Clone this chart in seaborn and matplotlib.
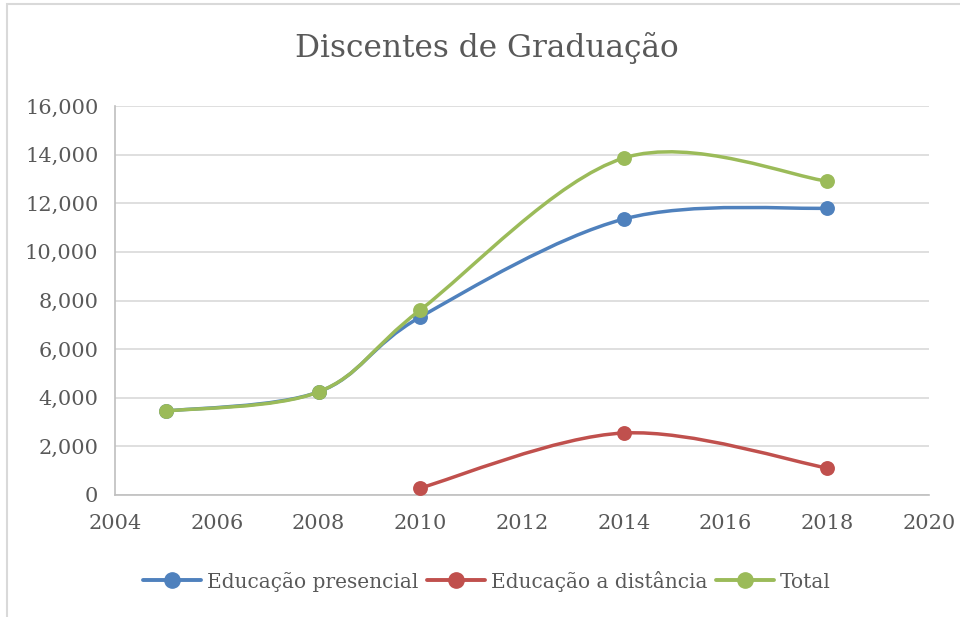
import matplotlib
matplotlib.use("Agg")
import matplotlib.pyplot as plt
from matplotlib.path import Path
from matplotlib.patches import PathPatch, Rectangle
from matplotlib.lines import Line2D
from matplotlib.ticker import FuncFormatter, MultipleLocator
import seaborn as sns
import pandas as pd

# ---- data ----
series_names = ["Educação presencial", "Educação a distância", "Total"]
years_presencial = [2005, 2008, 2010, 2014, 2018]
vals_presencial = [3450, 4240, 7320, 11350, 11800]
years_distancia = [2010, 2014, 2018]
vals_distancia = [290, 2550, 1110]
years_total = [2005, 2008, 2010, 2014, 2018]
vals_total = [3450, 4240, 7610, 13860, 12910]
colors = ["#4F81BD", "#C0504D", "#9BBB59"]
title = "Discentes de Graduação"

sns.set_theme(style="white")
plt.rcParams["font.family"] = ["DejaVu Serif"]
text_color = "#595959"

fig = plt.figure(figsize=(9.6, 6.17), dpi=100)
# chart frame (Excel-like border)
fig.patches.append(Rectangle((7 / 960, -0.1), 1.2, 1 - 4 / 617 + 0.1,
                             transform=fig.transFigure, fill=False,
                             edgecolor="#D9D9D9", linewidth=1.5))
ax = fig.add_axes([115 / 960, 1 - 495 / 617, (929 - 115) / 960, (495 - 106) / 617])

frames = []
for name, xs, ys in [(series_names[0], years_presencial, vals_presencial),
                     (series_names[1], years_distancia, vals_distancia),
                     (series_names[2], years_total, vals_total)]:
    frames.append(pd.DataFrame({"ano": xs, "valor": ys, "serie": name}))
df = pd.concat(frames, ignore_index=True)


def smooth_path(xs, ys):
    pts = list(zip(xs, ys))
    n = len(pts)
    verts = [pts[0]]
    codes = [Path.MOVETO]
    for i in range(n - 1):
        p0 = pts[i - 1] if i > 0 else pts[i]
        p1 = pts[i]
        p2 = pts[i + 1]
        p3 = pts[i + 2] if i + 2 < n else pts[i + 1]
        c1 = (p1[0] + (p2[0] - p0[0]) / 6, p1[1] + (p2[1] - p0[1]) / 6)
        c2 = (p2[0] - (p3[0] - p1[0]) / 6, p2[1] - (p3[1] - p1[1]) / 6)
        verts += [c1, c2, p2]
        codes += [Path.CURVE4] * 3
    return Path(verts, codes)


for i, name in enumerate(series_names):
    sub = df[df["serie"] == name]
    patch = PathPatch(smooth_path(sub["ano"].tolist(), sub["valor"].tolist()),
                      fill=False, edgecolor=colors[i], linewidth=2.5,
                      capstyle="round", joinstyle="round", zorder=3 + i * 2)
    ax.add_patch(patch)
    sns.scatterplot(data=sub, x="ano", y="valor", color=colors[i], s=115,
                    edgecolor=colors[i], linewidth=0, ax=ax, zorder=4 + i * 2,
                    legend=False)

ax.set_xlim(2004, 2020)
ax.set_ylim(0, 16000)
ax.xaxis.set_major_locator(MultipleLocator(2))
ax.yaxis.set_major_locator(MultipleLocator(2000))
ax.yaxis.set_major_formatter(FuncFormatter(lambda v, p: f"{int(v):,}"))
ax.set_xlabel("")
ax.set_ylabel("")
ax.grid(axis="y", color="#D9D9D9", linewidth=1.2)
ax.grid(axis="x", visible=False)
for s in ["top", "right"]:
    ax.spines[s].set_visible(False)
for s in ["left", "bottom"]:
    ax.spines[s].set_color("#BFBFBF")
    ax.spines[s].set_linewidth(1.2)
ax.tick_params(axis="both", length=0, labelsize=15, labelcolor=text_color)
ax.tick_params(axis="y", pad=12)
ax.tick_params(axis="x", pad=14)

fig.text(487 / 960, 1 - 48 / 617, title, ha="center", va="center",
         fontsize=22.5, color=text_color)

handles = [Line2D([0], [0], color=c, linewidth=2.8, marker="o", markersize=11)
           for c in colors]
fig.legend(handles, series_names, loc="center", bbox_to_anchor=(487 / 960, 1 - 581 / 617),
           ncol=3, frameon=False, fontsize=14.5, handlelength=2.9, handletextpad=0.3,
           columnspacing=0.4, labelcolor=text_color)

fig.savefig("out.png", dpi=100)
